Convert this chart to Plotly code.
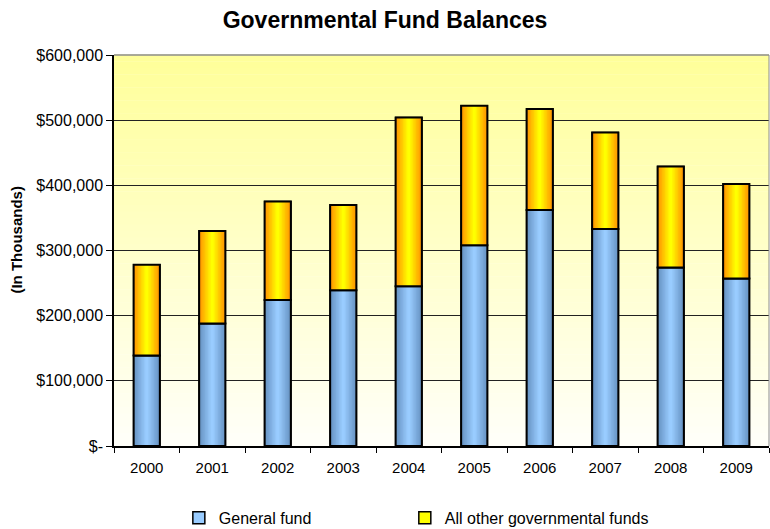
import plotly.graph_objects as go

years = ["2000", "2001", "2002", "2003", "2004", "2005", "2006", "2007", "2008", "2009"]
general_fund = [139000, 188000, 224000, 239000, 245000, 308000, 362000, 333000, 274000, 257000]
other_funds = [139000, 142000, 151000, 131000, 259000, 214000, 155000, 148000, 155000, 145000]
y_tick_vals = [0, 100000, 200000, 300000, 400000, 500000, 600000]
y_tick_text = ["$-", "$100,000", "$200,000", "$300,000", "$400,000", "$500,000", "$600,000"]

FONT = "Arial, Liberation Sans, sans-serif"
BAR_W = 0.4
N_STRIPS = 9


def lerp(c1, c2, t):
    return "rgb(%d,%d,%d)" % tuple(round(a + (b - a) * t) for a, b in zip(c1, c2))


fig = go.Figure()

series = [
    ("General fund", general_fund, None, (104, 148, 196), (153, 204, 255), "#99CCFF", "legend"),
    ("All other governmental funds", other_funds, general_fund, (255, 150, 0), (255, 255, 0), "#FFFF00", "legend2"),
]

for name, vals, base, edge, center, legend_color, leg in series:
    # legend / base trace
    fig.add_trace(go.Bar(
        x=years, y=vals, base=base, name=name, width=BAR_W, legend=leg,
        marker=dict(color=legend_color, line=dict(color="black", width=1.5)),
        hoverinfo="skip",
    ))
    # gradient strips
    for k in range(N_STRIPS):
        t = k / (N_STRIPS - 1)
        w = BAR_W * (1 - k / N_STRIPS)
        fig.add_trace(go.Bar(
            x=years, y=vals, base=base, width=w, showlegend=False,
            marker=dict(color=lerp(edge, center, t), line=dict(width=0)),
            hoverinfo="skip",
        ))
    # outline
    fig.add_trace(go.Bar(
        x=years, y=vals, base=base, width=BAR_W, showlegend=False,
        marker=dict(color="rgba(0,0,0,0)", line=dict(color="black", width=2)),
        name=name,
    ))

# background gradient (yellow top -> near white bottom)
shapes = []
n_bg = 60
top_c = (255, 255, 153)
bot_c = (255, 255, 250)
for i in range(n_bg):
    y0 = i / n_bg
    y1 = (i + 1) / n_bg
    t = (i + 0.5) / n_bg
    shapes.append(dict(type="rect", xref="x domain", yref="y domain",
                       x0=0, x1=1, y0=y0, y1=y1 + 0.001, layer="below",
                       line=dict(width=0), fillcolor=lerp(bot_c, top_c, t)))
shapes.append(dict(type="line", xref="x domain", yref="y domain", x0=0, x1=1, y0=1, y1=1,
                   line=dict(color="#8c8c8c", width=1.5), layer="above"))
shapes.append(dict(type="line", xref="x domain", yref="y domain", x0=1, x1=1, y0=0, y1=1,
                   line=dict(color="#8c8c8c", width=1), layer="above"))

legend_common = dict(orientation="h", xanchor="left", y=-0.184, yanchor="middle",
                     font=dict(family=FONT, size=16, color="black"),
                     bgcolor="rgba(0,0,0,0)")

fig.update_layout(
    width=770, height=529,
    margin=dict(l=114, r=1, t=55, b=83, autoexpand=False),
    paper_bgcolor="white", plot_bgcolor="white",
    barmode="overlay",
    font=dict(family=FONT, size=15, color="black"),
    title=dict(text="<b>Governmental Fund Balances</b>", x=0.5, xref="container",
               y=1 - 20 / 529, yref="container", xanchor="center", yanchor="middle",
               font=dict(family=FONT, size=23, color="black")),
    shapes=shapes,
    showlegend=True,
    legend=dict(x=0.099, **legend_common),
    legend2=dict(x=0.444, **legend_common),
    annotations=[dict(text="<b>(In Thousands)</b>", xref="paper", yref="paper",
                      x=-0.149, y=0.529, xanchor="center", yanchor="middle",
                      textangle=-90, showarrow=False,
                      font=dict(family=FONT, size=15, color="black"))],
)

fig.update_xaxes(
    type="category", showline=True, linecolor="black", linewidth=1.5,
    ticks="outside", tickson="boundaries", ticklen=5, tickcolor="black",
    ticklabelstandoff=7,
    showgrid=False, tickfont=dict(family=FONT, size=15, color="black"),
)
fig.update_yaxes(
    range=[0, 600000], tickvals=y_tick_vals, ticktext=y_tick_text,
    showline=True, linecolor="black", linewidth=1.5,
    ticks="outside", ticklen=6, tickcolor="black",
    showgrid=True, gridcolor="#222222", gridwidth=1,
    zeroline=False, tickfont=dict(family=FONT, size=16, color="black"),
)

fig.write_html("out.html", config={"displayModeBar": False},
               post_script="document.body.style.margin='0px';")
